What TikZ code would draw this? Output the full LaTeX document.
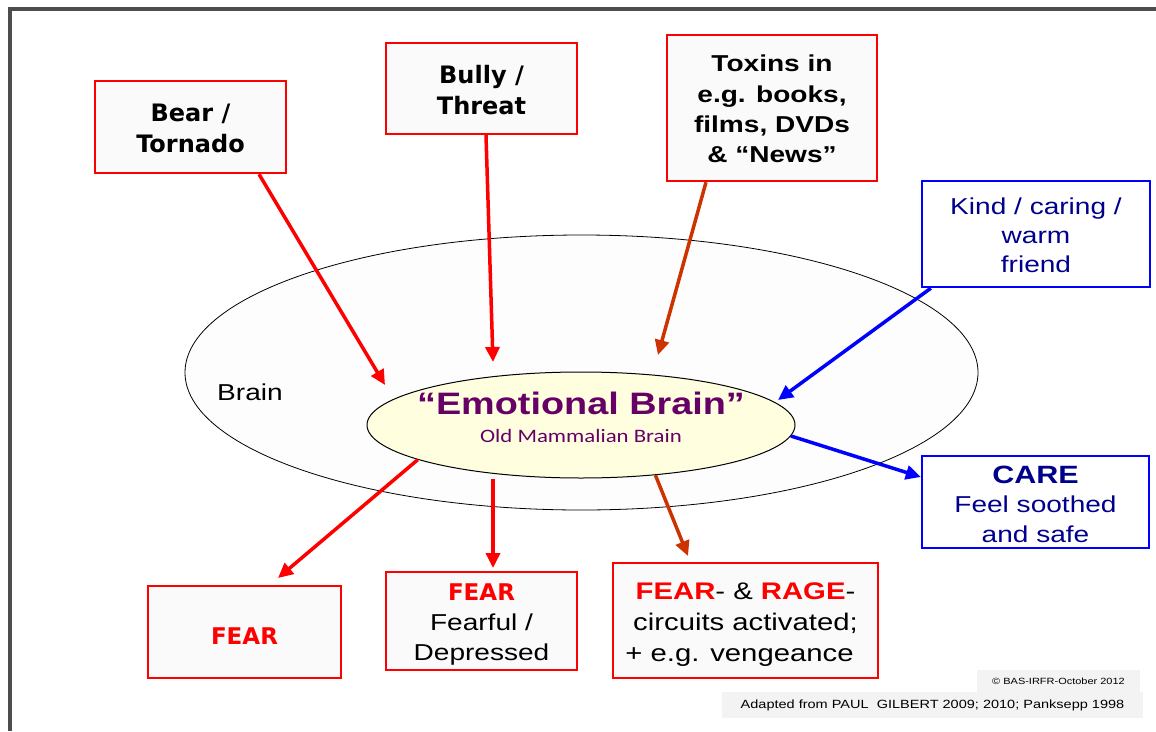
\documentclass[tikz,border=0pt]{standalone}
\usepackage{fontspec}
\usetikzlibrary{arrows.meta,calc,shapes.geometric}
\newfontfamily\arialfont[FakeStretch=1.22]{Liberation Sans}
\newfontfamily\tahomafont{DejaVu Sans}
\newfontfamily\calfont[FakeStretch=1.2]{Carlito}
\definecolor{framegray}{RGB}{77,77,77}
\definecolor{boxfill}{RGB}{250,250,250}
\definecolor{brainfill}{RGB}{253,253,253}
\definecolor{alarmred}{RGB}{255,0,0}
\definecolor{rust}{RGB}{204,51,0}
\definecolor{calmblue}{RGB}{0,0,255}
\definecolor{navy}{RGB}{0,0,140}
\definecolor{plum}{RGB}{102,0,102}
\definecolor{cream}{RGB}{255,255,224}
\definecolor{notegray}{RGB}{243,243,243}
\newcommand{\fsz}[2]{\fontsize{#1}{#2}\selectfont}
\begin{document}
\begin{tikzpicture}[x=1pt,y=-1pt,
  redbox/.style={draw=alarmred, line width=2.4pt, fill=boxfill, inner sep=0pt},
  bluebox/.style={draw=calmblue, line width=2.4pt, fill=white, inner sep=0pt},
  caption/.style={inner sep=0pt, align=center},
  arr/.style={line width=3.5pt, -{Triangle[length=15pt,width=14pt]}},
  redarr/.style={arr, draw=alarmred, fill=alarmred},
  rustarr/.style={arr, draw=rust, fill=rust},
  bluearr/.style={arr, draw=calmblue, fill=calmblue},
  note/.style={fill=notegray, inner sep=0pt, font=\arialfont},
]
\useasboundingbox (0,0) rectangle (1156,731);
% page frame
\fill[framegray] (8,7) rectangle (1156,11);
\fill[framegray] (8,7) rectangle (12,731);

% brain and emotional brain
\node[ellipse, draw=black, line width=0.8pt, fill=brainfill, minimum width=793, minimum height=275, inner sep=0pt] (brain) at (581.5,372.5) {};
\node[font=\arialfont\fsz{23}{26}] (brainlbl) at (250,392) {Brain};
\node[ellipse, draw=black, line width=1pt, fill=cream, minimum width=428, minimum height=106, inner sep=0pt] (emo) at (581,425) {};
\node[text=plum, font=\arialfont\bfseries\fsz{31}{34}] (emotitle) at (581,403.5) {“Emotional Brain”};
\node[text=plum, font=\calfont\fsz{19}{20}] (emosub) at (581,435.5) {Old Mammalian Brain};

% triggers
\node[redbox, minimum width=191, minimum height=92] (bear) at (190.5,127) {};
\node[caption, font=\tahomafont\bfseries\fsz{24}{31}] (beartxt) at (190.5,128.5) {Bear /\\Tornado};
\node[redbox, minimum width=191, minimum height=91] (bully) at (481.5,88.5) {};
\node[caption, font=\tahomafont\bfseries\fsz{24}{31}] (bullytxt) at (481.5,90.5) {Bully /\\Threat};
\node[redbox, minimum width=210, minimum height=146] (tox) at (772,108) {};
\node[caption, font=\arialfont\bfseries\fsz{23}{30.3}] (toxtxt) at (772,109) {Toxins in\\e.g. books,\\films, DVDs\\\& “News”};
\node[bluebox, minimum width=228, minimum height=106] (kind) at (1036,234) {};
\node[caption, text=navy, font=\arialfont\fsz{23}{29}] (kindtxt) at (1036,235.5) {Kind / caring /\\warm\\friend};

% responses
\node[bluebox, minimum width=227, minimum height=92] (care) at (1035.5,502) {};
\node[caption, text=navy, font=\arialfont\fsz{23}{29.5}] (caretxt) at (1035.5,504) {{\bfseries\fsz{25}{31}CARE}\\Feel soothed\\and safe};
\node[redbox, minimum width=193, minimum height=92] (fearl) at (244.5,632) {};
\node[caption, text=alarmred, font=\tahomafont\bfseries\fsz{23}{26}] (fearltxt) at (244.5,636) {FEAR};
\node[redbox, minimum width=191, minimum height=98] (fearm) at (481.5,621) {};
\node[caption, font=\arialfont\fsz{23}{30}] (fearmtxt) at (481.5,624) {{\tahomafont\bfseries\color{alarmred}FEAR}\\Fearful /\\Depressed};
\node[redbox, minimum width=265, minimum height=115] (fearr) at (745.5,620.5) {};
\node[caption, font=\arialfont\fsz{24}{31}] (fearrtxt) at (745.5,624.5) {\textcolor{alarmred}{\bfseries FEAR}- \& \textcolor{alarmred}{\bfseries RAGE}-\\ circuits activated;\\+ e.g. vengeance\hspace*{12pt}};

% credits
\node[note, minimum width=163, minimum height=22, font=\arialfont\fsz{9}{10}] (copy) at (1058.5,681) {\textcopyright{} BAS-IRFR-October 2012};
\node[note, minimum width=421, minimum height=26, font=\arialfont\fsz{11.9}{14}] (src) at (932.5,705) {Adapted from PAUL\ \ GILBERT 2009; 2010; Panksepp 1998};

% arrow tips
\coordinate (tipbear) at (385,385);
\coordinate (tipbully) at (493,362);
\coordinate (tiptox) at (658,355);
\coordinate (tipkind) at (778,400);
\coordinate (tipfl) at (278,578);
\coordinate (tipfm) at (493,568);
\coordinate (tipfr) at (688,556);

% inputs
\draw[redarr] ([xshift=68.5pt]bear.south) -- (tipbear);
\draw[redarr] ([xshift=4.5pt]bully.south) -- (tipbully);
\draw[rustarr] ([xshift=-66pt]tox.south) -- (tiptox);
\draw[bluearr] ([xshift=10pt]kind.south west) -- (tipkind);
% outputs
\draw[bluearr] (emo.-3) -- ([yshift=25pt]care.west);
\draw[redarr] (emo.192) -- (tipfl);
\draw[redarr] (emo.south -| tipfm) -- (tipfm);
\draw[rustarr] (emo.-34) -- (tipfr);
\end{tikzpicture}
\end{document}
